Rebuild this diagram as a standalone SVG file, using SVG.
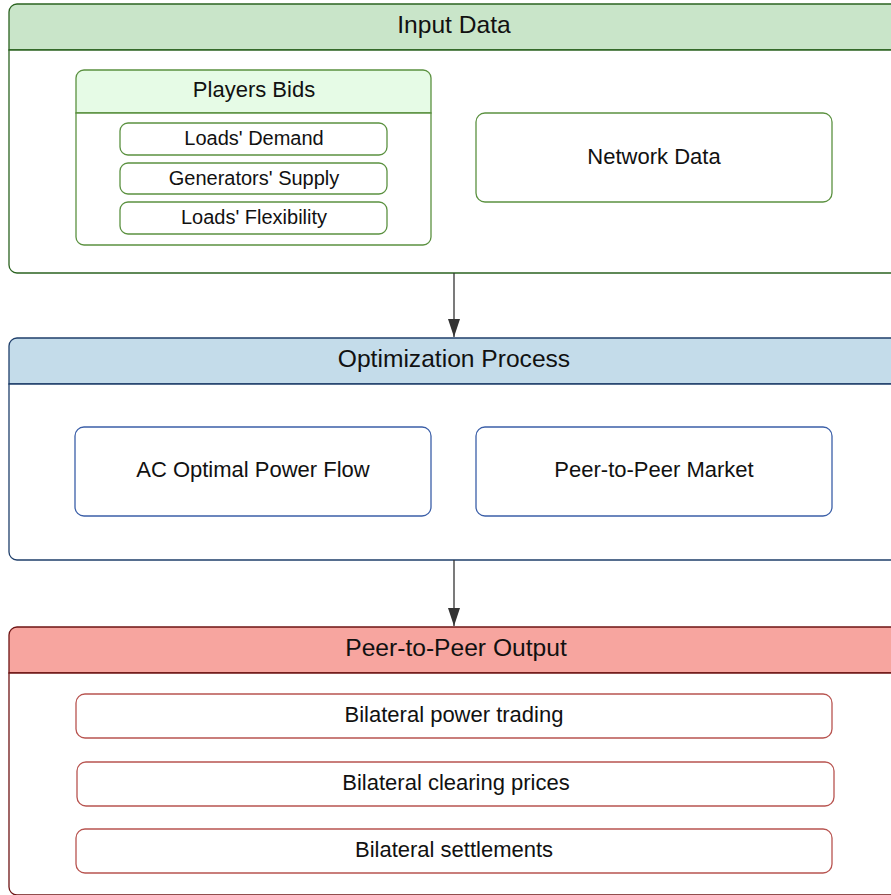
<svg xmlns="http://www.w3.org/2000/svg" width="891" height="895" viewBox="0 0 891 895">
<defs>
<style>
text{font-family:"Liberation Sans",Arial,sans-serif;fill:#111;text-anchor:middle;dominant-baseline:central}
.t25{font-size:24.6px}.t22{font-size:22px}.t20{font-size:20px}
.gS{stroke:#2b6320;stroke-width:1.3}.gI{stroke:#5b9140;stroke-width:1.3;fill:#fff}
.bS{stroke:#1f3f6b;stroke-width:1.3}.bI{stroke:#3b5fa8;stroke-width:1.3;fill:#fff}
.rS{stroke:#6e1515;stroke-width:1.3}.rI{stroke:#b85450;stroke-width:1.3;fill:#fff}
.conn{stroke:#333;stroke-width:1.3;fill:none}
</style>
<marker id="arr" markerWidth="18" markerHeight="12" refX="18" refY="6" orient="auto" markerUnits="userSpaceOnUse" viewBox="0 0 18 12"><path d="M0,0 L18,6 L0,12 Z" fill="#333"/></marker>
</defs>
<rect width="891" height="895" fill="#fff"/>

<g id="input-data">
<path d="M9,50 V12 a8,8 0 0 1 8,-8 H899 V50 Z" fill="#c9e5c9" class="gS"/>
<path d="M9,50 V265 a8,8 0 0 0 8,8 H899 V50 Z" fill="#fff" class="gS"/>
<text x="454" y="24" class="t25">Input Data</text>
</g>
<g id="players-bids">
<path d="M76,113 V78 a8,8 0 0 1 8,-8 H423 a8,8 0 0 1 8,8 V113 Z" fill="#e6fbe6" stroke="#5b9140" stroke-width="1.3"/>
<path d="M76,113 V237 a8,8 0 0 0 8,8 H423 a8,8 0 0 0 8,-8 V113 Z" fill="#fff" stroke="#5b9140" stroke-width="1.3"/>
<text x="254" y="89" class="t22">Players Bids</text>
</g>
<g id="loads-demand"><rect x="120" y="123" width="267" height="32" rx="8" class="gI"/><text x="254" y="138" class="t20">Loads' Demand</text></g>
<g id="generators-supply"><rect x="120" y="163" width="267" height="31" rx="8" class="gI"/><text x="254" y="178" class="t20">Generators' Supply</text></g>
<g id="loads-flexibility"><rect x="120" y="202" width="267" height="32" rx="8" class="gI"/><text x="254" y="217" class="t20">Loads' Flexibility</text></g>
<g id="network-data"><rect x="476" y="113" width="356" height="89" rx="9" class="gI"/><text x="654" y="156" class="t22">Network Data</text></g>

<g id="optimization-process">
<path d="M9,384 V346 a8,8 0 0 1 8,-8 H899 V384 Z" fill="#c4dcea" class="bS"/>
<path d="M9,384 V552 a8,8 0 0 0 8,8 H899 V384 Z" fill="#fff" class="bS"/>
<text x="454" y="358" class="t25">Optimization Process</text>
</g>
<g id="ac-opf"><rect x="75" y="427" width="356" height="89" rx="9" class="bI"/><text x="253" y="469" class="t22">AC Optimal Power Flow</text></g>
<g id="p2p-market"><rect x="476" y="427" width="356" height="89" rx="9" class="bI"/><text x="654" y="469" class="t22">Peer-to-Peer Market</text></g>

<g id="p2p-output">
<path d="M9,673 V635 a8,8 0 0 1 8,-8 H899 V673 Z" fill="#f7a59f" class="rS"/>
<path d="M9,673 V887 a8,8 0 0 0 8,8 H899 V673 Z" fill="#fff" class="rS"/>
<text x="456" y="647" class="t25">Peer-to-Peer Output</text>
</g>
<g id="bilateral-power-trading"><rect x="76" y="694" width="756" height="44" rx="9" class="rI"/><text x="454" y="714" class="t22">Bilateral power trading</text></g>
<g id="bilateral-clearing-prices"><rect x="77" y="762" width="757" height="44" rx="9" class="rI"/><text x="456" y="782" class="t22">Bilateral clearing prices</text></g>
<g id="bilateral-settlements"><rect x="76" y="829" width="756" height="44" rx="9" class="rI"/><text x="454" y="849" class="t22">Bilateral settlements</text></g>

<g id="connectors">
<line x1="454" y1="273" x2="454" y2="337" class="conn" marker-end="url(#arr)"/>
<line x1="454" y1="560" x2="454" y2="626" class="conn" marker-end="url(#arr)"/>
</g>
</svg>
